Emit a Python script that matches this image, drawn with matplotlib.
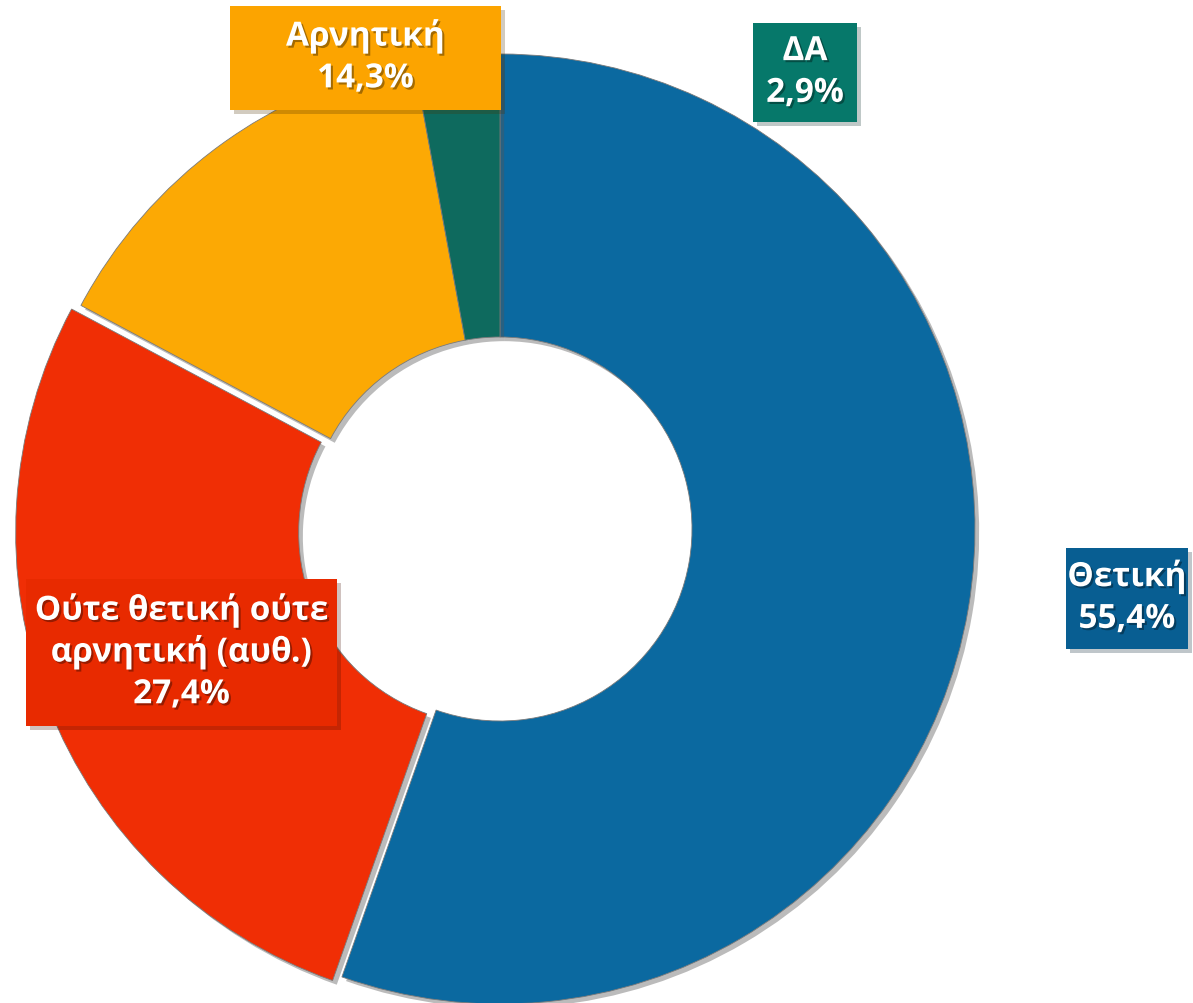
import matplotlib
matplotlib.use("Agg")
import matplotlib.pyplot as plt
import matplotlib.patheffects as pe
from matplotlib.patches import Rectangle

# Data (clockwise from 12 o'clock)
categories = ["Θετική", "Ούτε θετική ούτε\nαρνητική (αυθ.)", "Αρνητική", "ΔΑ"]
values = [55.4, 27.4, 14.3, 2.9]
value_labels = ["55,4%", "27,4%", "14,3%", "2,9%"]

slice_colors = ["#0B69A0", "#F02E05", "#FCA904", "#0E6A5E"]
box_colors = ["#085E92", "#E82A00", "#FCA400", "#06786A"]
explode = [0, 10, 0, 0]

# label boxes in pixel coords (x0, y0 from top, width, height)
boxes = [(1066, 549, 122, 101), (26, 580, 311, 147), (230, 7, 271, 104), (753, 24, 104, 99)]

W, H = 1193, 1004
fig = plt.figure(figsize=(W / 100, H / 100), dpi=100)
ax = fig.add_axes([0, 0, 1, 1])

cx, cy, R = 500, H - 530, 475
wedges, _ = ax.pie(
    values, colors=slice_colors, startangle=90, counterclock=False,
    radius=R, center=(cx, cy), explode=explode, frame=True,
    wedgeprops=dict(width=R - 192, edgecolor="#7a7a7a", linewidth=0.6),
)
for w in wedges:
    w.set_path_effects([pe.SimplePatchShadow(offset=(3, -3), shadow_rgbFace="#555555", alpha=0.4),
                        pe.Normal()])
ax.set_xlim(0, W)
ax.set_ylim(0, H)
ax.set_aspect("equal")
ax.axis("off")

shadow = [pe.withSimplePatchShadow(offset=(1.5, -1.5), shadow_rgbFace="black", alpha=0.35)]
for cat, lab, col, (bx, by, bw, bh) in zip(categories, value_labels, box_colors, boxes):
    ax.add_patch(Rectangle((bx, H - by - bh), bw, bh, facecolor=col, edgecolor="none", zorder=5,
                           path_effects=[pe.SimplePatchShadow(offset=(3, -3), alpha=0.25), pe.Normal()]))
    ax.text(bx + bw / 2, H - by - bh / 2, cat + "\n" + lab, ha="center", va="center",
            color="white", fontsize=24, fontweight="bold", linespacing=1.35,
            family=["Open Sans", "DejaVu Sans"], zorder=6, path_effects=shadow)

fig.savefig("out.png", dpi=100, facecolor="white")
